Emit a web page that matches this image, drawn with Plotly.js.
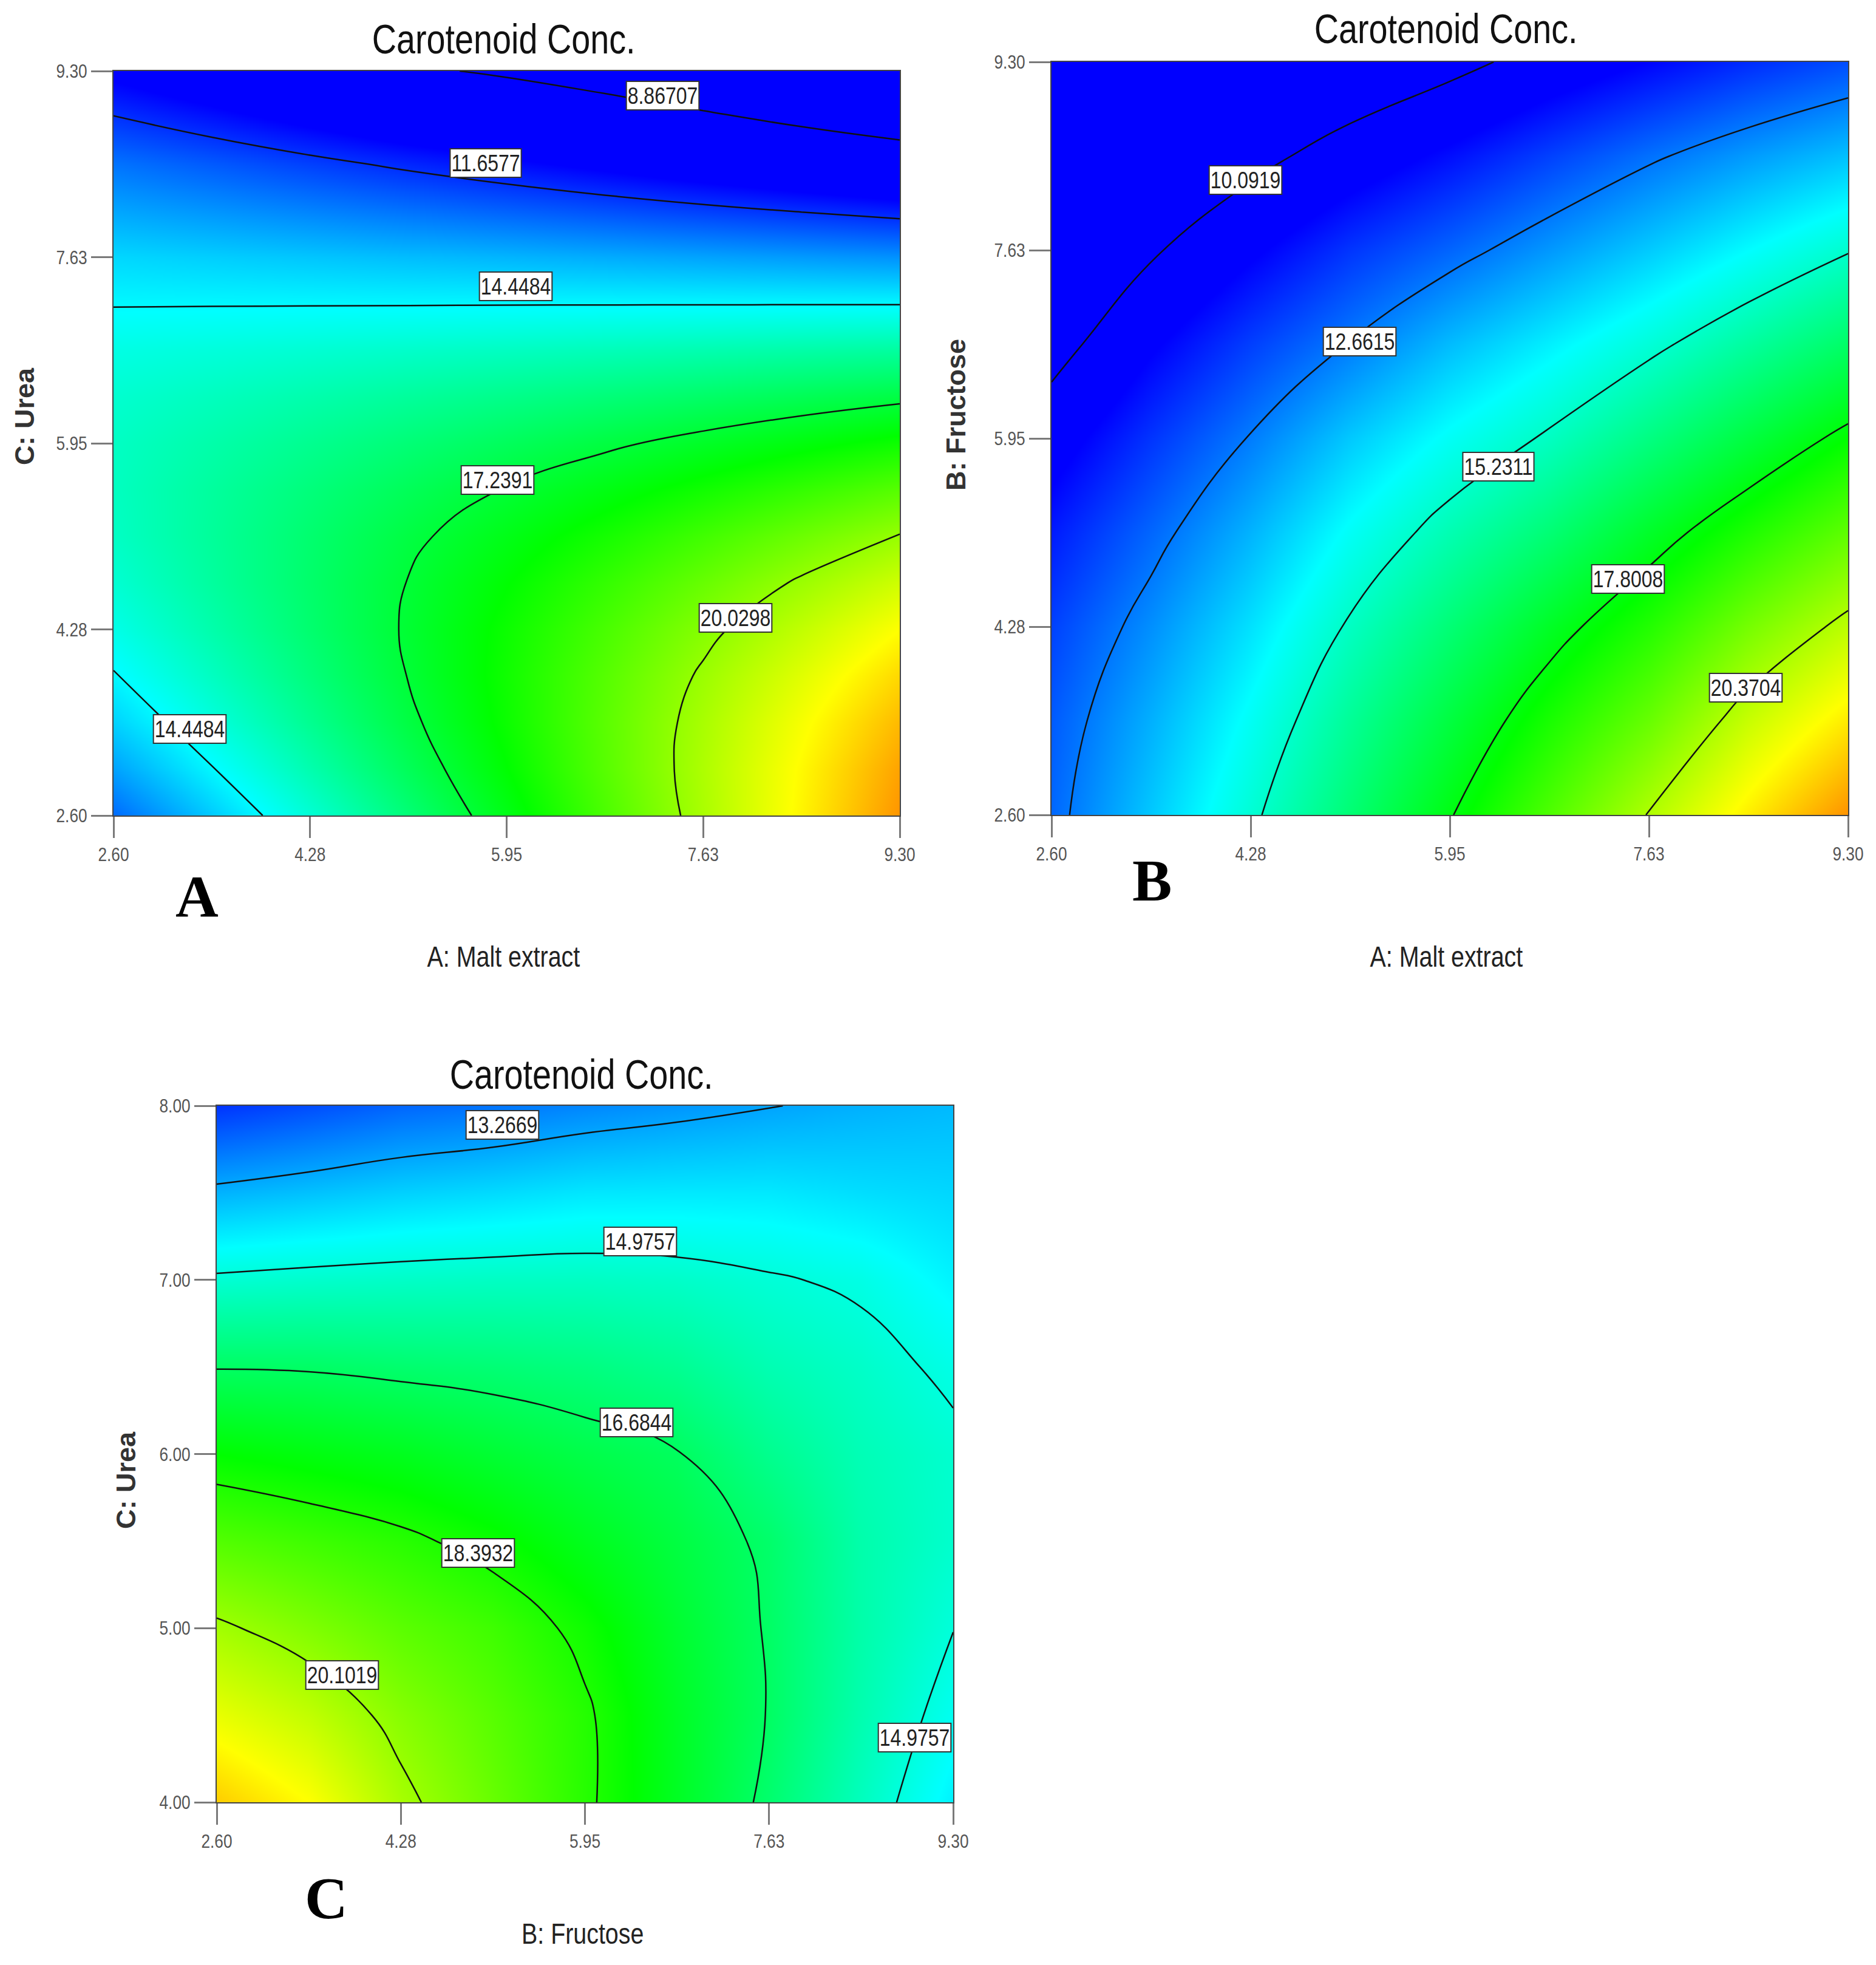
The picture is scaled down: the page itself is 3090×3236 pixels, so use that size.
<!DOCTYPE html>
<html>
<head>
<meta charset="utf-8">
<script src="https://cdn.plot.ly/plotly-3.0.1.min.js"></script>
<style>html,body{margin:0;padding:0;background:#fff;}#chart{width:3090px;height:3236px;}</style>
</head>
<body>
<div id="chart"></div>
<script>
// ---- grid coordinates (factor levels) ----
const factorGrid = [2.6, 3.4375, 4.275, 5.1125, 5.95, 6.7875, 7.625, 8.4625, 9.3];
const ureaGridA = [2.6, 3.01875, 3.4375, 3.85625, 4.275, 4.69375, 5.1125, 5.53125, 5.95, 6.36875, 6.7875, 7.625, 8.4625, 9.3];
const ureaGridC = [4.0, 4.5, 5.0, 5.5, 6.0, 6.5, 7.0, 7.5, 8.0];

// ---- Panel A: Carotenoid vs Malt extract (x) and Urea (y); rows = Urea ----
const zA = [
  [12.46, 13.77, 15.08, 16.39, 17.71, 19.02, 20.33, 21.64, 22.96],
  [13.22, 14.41, 15.61, 16.80, 17.99, 19.19, 20.38, 21.57, 22.77],
  [13.87, 14.94, 16.02, 17.09, 18.16, 19.24, 20.31, 21.39, 22.46],
  [14.40, 15.35, 16.31, 17.26, 18.22, 19.17, 20.13, 21.08, 22.04],
  [14.81, 15.65, 16.49, 17.32, 18.16, 18.99, 19.83, 20.66, 21.50],
  [15.11, 15.83, 16.55, 17.26, 17.98, 18.70, 19.41, 20.13, 20.84],
  [15.30, 15.89, 16.49, 17.09, 17.69, 18.28, 18.88, 19.48, 20.07],
  [15.36, 15.84, 16.32, 16.80, 17.28, 17.75, 18.23, 18.71, 19.19],
  [15.31, 15.67, 16.03, 16.39, 16.75, 17.11, 17.47, 17.83, 18.19],
  [15.15, 15.39, 15.63, 15.87, 16.11, 16.35, 16.59, 16.83, 17.07],
  [14.87, 14.99, 15.11, 15.23, 15.35, 15.47, 15.59, 15.71, 15.83],
  [13.96, 13.84, 13.72, 13.60, 13.49, 13.37, 13.25, 13.13, 13.01],
  [12.58, 12.23, 11.87, 11.51, 11.16, 10.80, 10.44, 10.09, 9.73],
  [10.80, 10.25, 9.65, 9.05, 8.70, 8.25, 7.70, 7.05, 6.40]
];
const levelsA = [8.86707, 11.6577, 14.4484, 17.2391, 20.0298];
const labelTextA = ['8.86707', '11.6577', '14.4484', '17.2391', '20.0298', '14.4484'];
const labelXA = [7.28, 5.77, 6.03, 5.87, 7.90, 3.25];
const labelYA = [9.08, 8.47, 7.36, 5.62, 4.38, 3.38];

// ---- Panel B: Malt extract (x) and Fructose (y); rows = Fructose ----
const zB = [
  [12.42, 13.75, 15.08, 16.42, 17.75, 19.08, 20.41, 21.74, 23.00],
  [12.24, 13.42, 14.64, 15.94, 17.13, 18.33, 19.41, 20.74, 21.79],
  [11.89, 12.97, 14.10, 15.33, 16.40, 17.48, 18.46, 19.61, 20.59],
  [11.35, 12.40, 13.46, 14.61, 15.56, 16.41, 17.43, 18.39, 19.30],
  [10.63, 11.71, 12.71, 13.76, 14.62, 15.34, 16.23, 17.13, 18.02],
  [9.73, 10.90, 11.86, 12.70, 13.58, 14.30, 15.03, 15.83, 16.61],
  [8.65, 9.98, 10.87, 11.72, 12.38, 13.09, 13.78, 14.49, 15.18],
  [7.60, 8.93, 9.80, 10.52, 11.17, 11.88, 12.54, 13.13, 13.65],
  [6.50, 7.77, 8.70, 9.28, 9.81, 10.45, 11.02, 11.58, 12.05]
];
const levelsB = [10.0919, 12.6615, 15.2311, 17.8008, 20.3704];
const labelTextB = ['10.0919', '12.6615', '15.2311', '17.8008', '20.3704'];
const labelXB = [4.23, 5.19, 6.36, 7.45, 8.44];
const labelYB = [8.25, 6.81, 5.70, 4.70, 3.73];

// ---- Panel C: Fructose (x) and Urea (y); rows = Urea ----
const zC = [
  [22.20, 21.50, 20.30, 19.41, 18.52, 17.53, 16.51, 15.40, 14.30],
  [21.20, 20.65, 19.85, 19.20, 18.50, 17.50, 16.65, 15.60, 14.68],
  [20.23, 19.75, 19.25, 18.85, 18.20, 17.35, 16.62, 15.68, 14.99],
  [19.13, 18.85, 18.55, 18.14, 17.60, 17.10, 16.55, 15.65, 15.18],
  [18.00, 17.80, 17.60, 17.30, 17.00, 16.72, 16.05, 15.50, 15.15],
  [16.65, 16.62, 16.50, 16.40, 16.25, 16.00, 15.55, 15.25, 14.82],
  [15.10, 15.20, 15.27, 15.32, 15.33, 15.25, 15.05, 14.85, 14.35],
  [13.44, 13.65, 13.86, 14.00, 14.17, 14.20, 14.20, 14.05, 13.95],
  [11.70, 12.05, 12.40, 12.60, 12.85, 13.05, 13.24, 13.42, 13.55]
];
const levelsC = [13.2669, 14.9757, 16.6844, 18.3932, 20.1019];
const labelTextC = ['13.2669', '14.9757', '16.6844', '18.3932', '20.1019', '14.9757'];
const labelXC = [5.20, 6.45, 6.42, 4.98, 3.74, 8.95];
const labelYC = [7.89, 7.22, 6.18, 5.43, 4.73, 4.37];

// ---- tick labels ----
const factorTickVals = [2.6, 4.275, 5.95, 7.625, 9.3];
const factorTickText = ['2.60', '4.28', '5.95', '7.63', '9.30'];
const ureaCTickVals = [4, 5, 6, 7, 8];
const ureaCTickText = ['4.00', '5.00', '6.00', '7.00', '8.00'];

// ---- styling ----
const NARROW = 'Liberation Sans, sans-serif';          // condensed after drawing
const SANS = 'Arial, Liberation Sans, sans-serif';     // left as drawn
const CONDENSE = 0.82;
const rainbow = [[0, '#0000ff'], [0.25, '#00ffff'], [0.5, '#00ff00'], [0.75, '#ffff00'], [1, '#ff0000']];

function contourTrace(z, x, y, levels, xa, ya) {
  const step = levels[1] - levels[0];
  return {
    type: 'contour', x: x, y: y, z: z, xaxis: xa, yaxis: ya,
    colorscale: rainbow, zauto: false, zmin: 11, zmax: 25, showscale: false,
    autocontour: false,
    contours: { start: levels[0], end: levels[levels.length - 1] + step * 0.001, size: step, coloring: 'heatmap', showlines: true },
    line: { color: '#111111', width: 2.5, smoothing: 1.3 },
    hoverinfo: 'skip'
  };
}

const traces = [
  contourTrace(zA, factorGrid, ureaGridA, levelsA, 'x', 'y'),
  contourTrace(zB, factorGrid, factorGrid, levelsB, 'x2', 'y2'),
  contourTrace(zC, factorGrid, ureaGridC, levelsC, 'x3', 'y3')
];

function axis(domain, range, vals, text, anchor) {
  return {
    domain: domain, range: range, anchor: anchor,
    tickmode: 'array', tickvals: vals, ticktext: text,
    ticks: 'outside', ticklen: 35, tickwidth: 3, tickcolor: '#7a7a7a',
    showline: true, linecolor: '#444444', linewidth: 2, mirror: true,
    showgrid: false, zeroline: false, fixedrange: true,
    tickfont: { family: NARROW, size: 32, color: '#555555' }
  };
}

const annotations = [];
function addLabels(xs, ys, texts, xref, yref) {
  for (let i = 0; i < texts.length; i++) {
    annotations.push({
      x: xs[i], y: ys[i], xref: xref, yref: yref, text: texts[i], showarrow: false,
      xanchor: 'center', yanchor: 'middle',
      font: { family: NARROW, size: 39, color: '#222222' },
      bgcolor: '#ffffff', bordercolor: '#333333', borderwidth: 2, borderpad: 1
    });
  }
}
addLabels(labelXA, labelYA, labelTextA, 'x', 'y');
addLabels(labelXB, labelYB, labelTextB, 'x2', 'y2');
addLabels(labelXC, labelYC, labelTextC, 'x3', 'y3');

function paperText(text, px, py, font, angle) {
  annotations.push({
    text: text, x: px / 3090, y: 1 - py / 3236, xref: 'paper', yref: 'paper',
    showarrow: false, xanchor: 'center', yanchor: 'middle', font: font, textangle: angle || 0
  });
}
const titleFont = { family: NARROW, size: 68, color: '#111111' };
paperText('Carotenoid Conc.', 830, 64, titleFont);
paperText('Carotenoid Conc.', 2381, 47, titleFont);
paperText('Carotenoid Conc.', 958, 1769, titleFont);
const xTitleFont = { family: NARROW, size: 48, color: '#222222' };
paperText('A: Malt extract', 830, 1575, xTitleFont);
paperText('A: Malt extract', 2382, 1575, xTitleFont);
paperText('B: Fructose', 960, 3184, xTitleFont);
const yTitleFont = { family: SANS, size: 45, color: '#333333', weight: 'bold' };
paperText('C: Urea', 40, 686, yTitleFont, -90);
paperText('B: Fructose', 1574, 683, yTitleFont, -90);
paperText('C: Urea', 207, 2437, yTitleFont, -90);
const letterFont = { family: 'Liberation Serif, Times New Roman, serif', size: 98, color: '#000000', weight: 'bold' };
paperText('A', 324, 1476, letterFont);
paperText('B', 1897, 1450, letterFont);
paperText('C', 537, 3126, letterFont);

const layout = {
  width: 3090, height: 3236,
  margin: { l: 0, r: 0, t: 0, b: 0 },
  paper_bgcolor: '#ffffff', plot_bgcolor: '#ffffff',
  showlegend: false,
  xaxis: axis([187 / 3090, 1482 / 3090], [2.6, 9.3], factorTickVals, factorTickText, 'y'),
  yaxis: axis([1 - 1343 / 3236, 1 - 117 / 3236], [2.6, 9.3], factorTickVals, factorTickText, 'x'),
  xaxis2: axis([1732 / 3090, 3044 / 3090], [2.6, 9.3], factorTickVals, factorTickText, 'y2'),
  yaxis2: axis([1 - 1342 / 3236, 1 - 102 / 3236], [2.6, 9.3], factorTickVals, factorTickText, 'x2'),
  xaxis3: axis([357 / 3090, 1570 / 3090], [2.6, 9.3], factorTickVals, factorTickText, 'y3'),
  yaxis3: axis([1 - 2968 / 3236, 1 - 1821 / 3236], [4, 8], ureaCTickVals, ureaCTickText, 'x3'),
  annotations: annotations
};

// The reference uses a narrow sans face; condense the Liberation Sans text horizontally.
function condenseText(gd) {
  gd.querySelectorAll('svg text').forEach(function (t) {
    const ff = (t.style.fontFamily || t.getAttribute('font-family') || '').toLowerCase().replace(/["']/g, '').trim();
    if (ff.indexOf('liberation sans') !== 0) return;
    let len = 0;
    try { len = t.getComputedTextLength(); } catch (e) { len = 0; }
    if (!len) return;
    const diff = len * (1 - CONDENSE);
    t.setAttribute('textLength', (len * CONDENSE).toFixed(2));
    t.setAttribute('lengthAdjust', 'spacingAndGlyphs');
    if (t.classList.contains('annotation-text')) {
      const anchor = t.getAttribute('text-anchor') || t.style.textAnchor || 'start';
      if (anchor === 'start') t.setAttribute('x', (parseFloat(t.getAttribute('x') || '0') + diff / 2).toFixed(2));
      else if (anchor === 'end') t.setAttribute('x', (parseFloat(t.getAttribute('x') || '0') - diff / 2).toFixed(2));
      const rect = t.parentNode ? t.parentNode.querySelector('rect.bg') : null;
      if (rect) {
        const rx = parseFloat(rect.getAttribute('x') || '0');
        const rw = parseFloat(rect.getAttribute('width') || '0');
        if (rw > diff) {
          rect.setAttribute('x', (rx + diff / 2).toFixed(2));
          rect.setAttribute('width', (rw - diff).toFixed(2));
        }
      }
    }
  });
}

Plotly.newPlot('chart', traces, layout, { staticPlot: true, displayModeBar: false }).then(condenseText);
</script>
</body>
</html>
